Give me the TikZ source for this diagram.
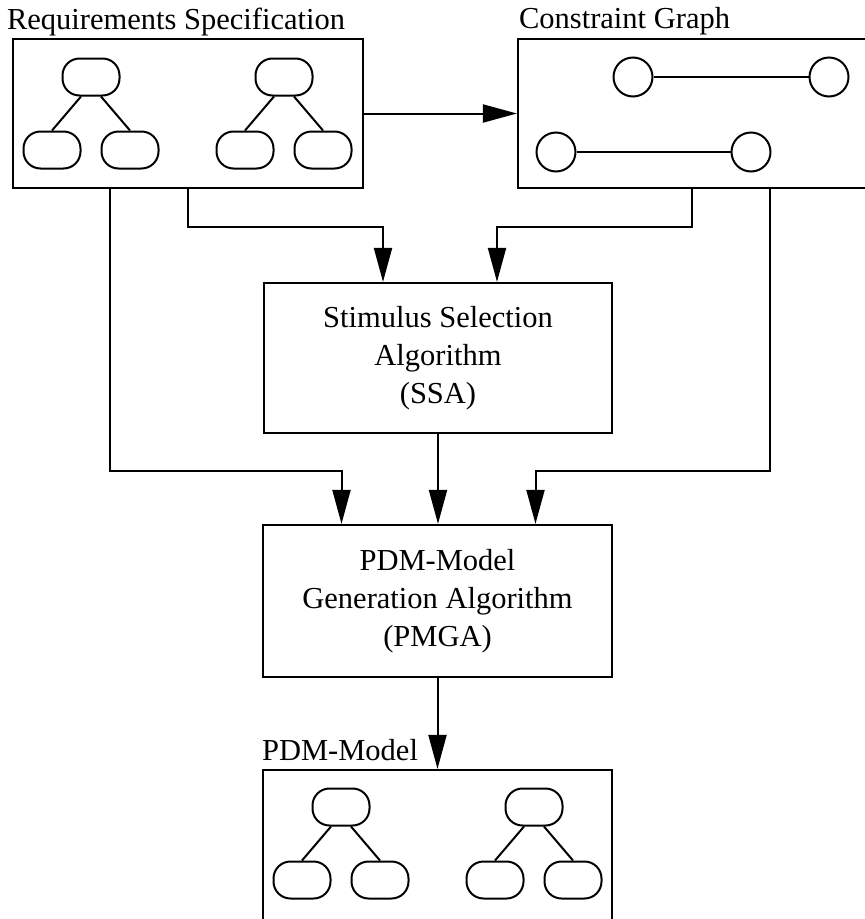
\documentclass[tikz,border=0pt]{standalone}
\usepackage{fontspec}
\setmainfont{Liberation Serif}
\usetikzlibrary{arrows.meta,positioning}

\tikzset{
  box/.style={draw,line width=2.2pt,rectangle,inner sep=0pt},
  treenode/.style={draw,line width=2pt,rectangle,rounded corners=17pt,minimum width=57pt,minimum height=37pt},
  cnode/.style={draw,line width=2pt,circle,minimum size=39pt,inner sep=0pt},
  link/.style={line width=2pt},
  flow/.style={line width=2pt,-{Triangle[length=34pt,width=18pt]}},
  caption/.style={anchor=base west,inner sep=0pt,font=\fontsize{30.5}{38}\selectfont},
  algo/.style={box,align=center,font=\fontsize{30.5}{38}\selectfont}
}

\begin{document}
\begin{tikzpicture}[x=1pt,y=-1pt]
    \clip (0,0) rectangle (865,919);

    % Boxes
    \node[box,minimum width=350pt,minimum height=149pt] (req) at (188,113.5) {};
    \node[box,minimum width=348pt,minimum height=149pt] (cg) at (692,113.5) {};
    \node[algo,minimum width=348pt,minimum height=150pt] (ssa) at (438,358) {Stimulus Selection\\Algorithm\\(SSA)};
    \node[algo,minimum width=349pt,minimum height=152pt] (pmga) at (437.5,601) {PDM-Model\\Generation Algorithm\\(PMGA)};
    \node[box,minimum width=349pt,minimum height=160pt] (pdm) at (437.5,850) {};

    % Labels
    \node[caption] (reqlabel) at ([xshift=-5pt,yshift=8pt]req.north west) {Requirements Specification};
    \node[caption] (cglabel) at ([xshift=2pt,yshift=9pt]cg.north west) {Constraint Graph};
    \node[caption] (pdmlabel) at ([yshift=8pt]pdm.north west) {PDM-Model};

    % Trees
    \foreach \dx/\dy/\t in {0/0/ra,193/0/rb,250/730/pa,443/730/pb}{
        \node[treenode] (\t0) at (91+\dx,77+\dy) {};
        \node[treenode] (\t1) at (52+\dx,150+\dy) {};
        \node[treenode] (\t2) at (130+\dx,150+\dy) {};
        \draw[link] ([xshift=-10pt]\t0.south) -- (\t1.north);
        \draw[link] ([xshift=10pt]\t0.south) -- (\t2.north);
    }

    % Constraint graph
    \node[cnode] (c1) at (633,77) {};
    \node[cnode] (c2) at (829,77) {};
    \node[cnode] (c3) at (556,152) {};
    \node[cnode] (c4) at (751,152) {};
    \draw[link] (c1) -- (c2);
    \draw[link] (c3) -- (c4);

    % Arrows
    \draw[flow] (req) -- (cg);
    \draw[flow] (req.south) -- ++(0,38) -| ([xshift=-55pt]ssa.north);
    \draw[flow] (cg.south) -- ++(0,38) -| ([xshift=59pt]ssa.north);
    \draw[flow] ([xshift=-78pt]req.south) -- ++(0,282) -| ([xshift=-96pt]pmga.north);
    \draw[flow] ([xshift=78pt]cg.south) -- ++(0,282) -| ([xshift=98pt]pmga.north);
    \draw[flow] (ssa.south) -- (ssa.south |- pmga.north);
    \draw[flow] (pmga.south) -- (pmga.south |- pdm.north);
\end{tikzpicture}
\end{document}
